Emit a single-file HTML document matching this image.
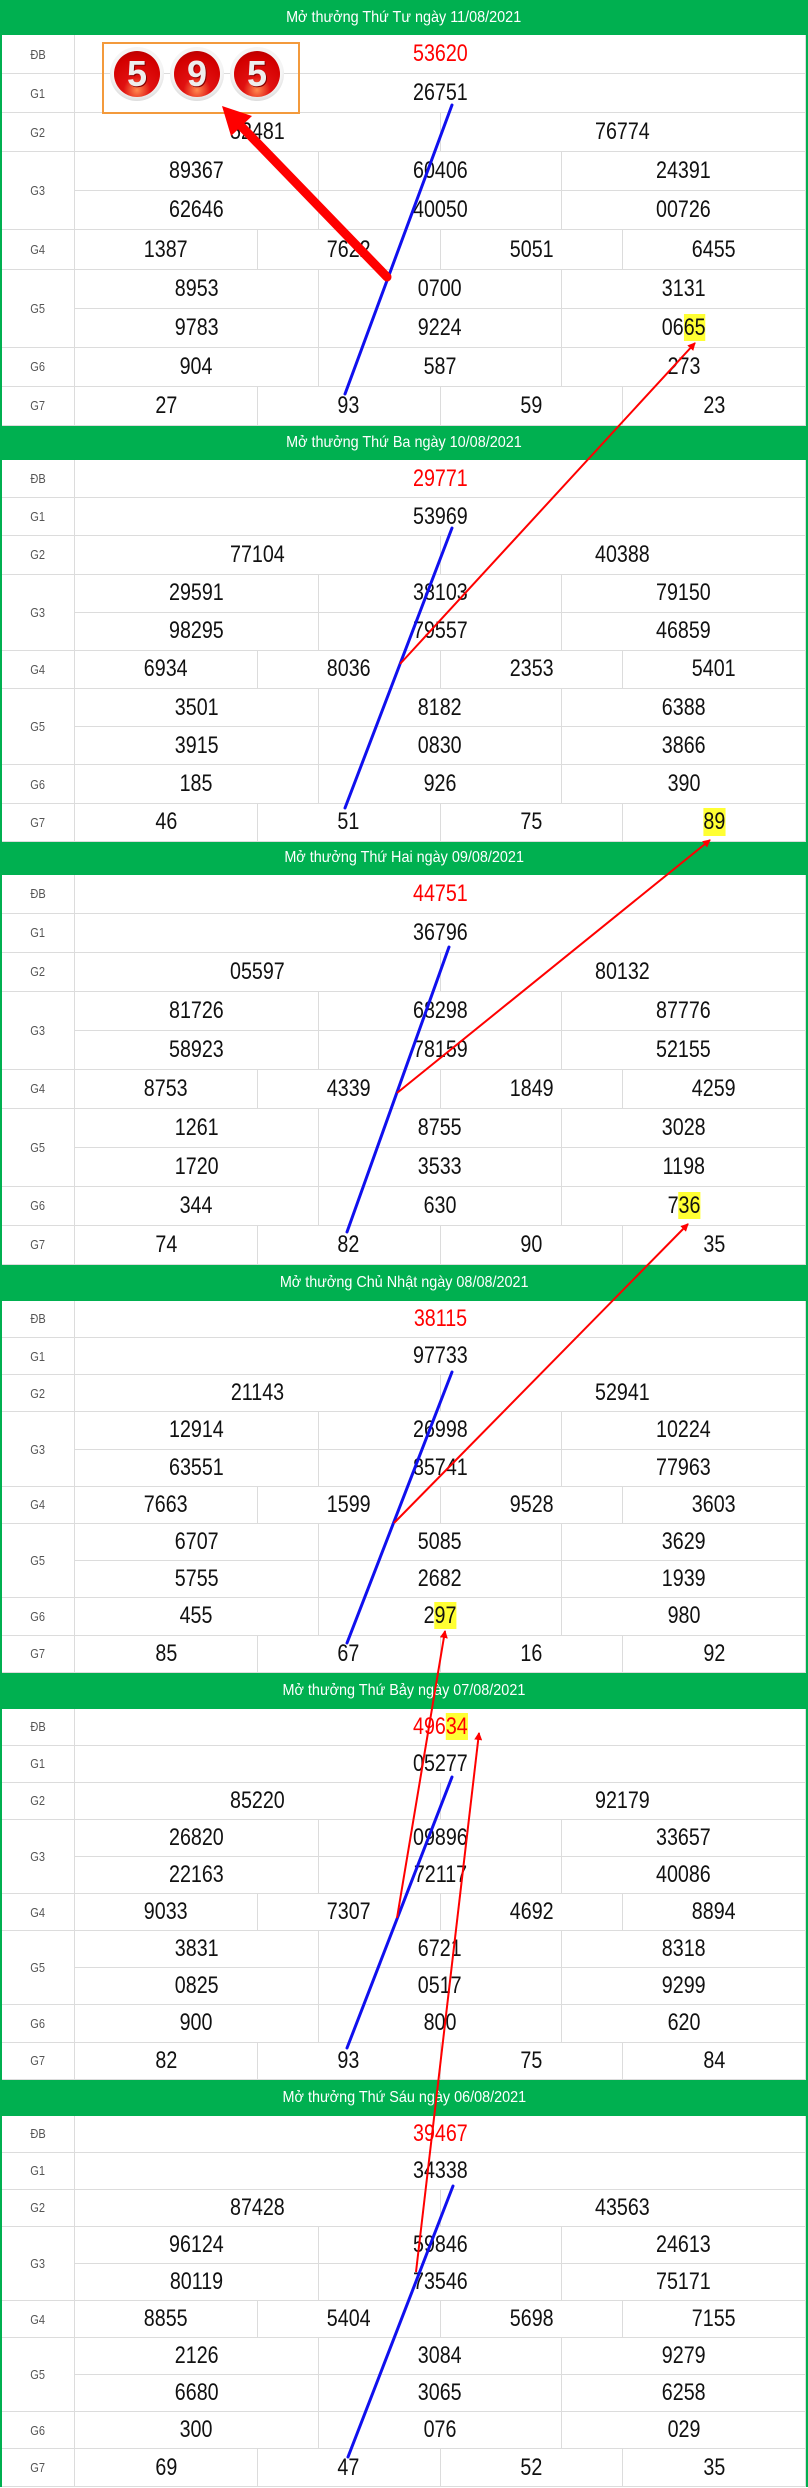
<!DOCTYPE html>
<html><head><meta charset="utf-8">
<style>
*{margin:0;padding:0;box-sizing:border-box}
body{width:808px;height:2488px;background:#fff;position:relative;overflow:hidden;font-family:"Liberation Sans",sans-serif}
.blk{position:relative;border-left:2px solid #00b050;border-right:2px solid #00b050}
.hd{background:#00b050;color:#fff;text-align:center;font-size:16px;display:flex;align-items:center;justify-content:center}
.hd span{display:inline-block;transform:scaleX(.9)}
.g{display:grid;grid-template-columns:73px repeat(12,1fr)}
.g>div{border-right:1px solid #dcdcdc;border-bottom:1px solid #dcdcdc;display:flex;align-items:center;justify-content:center;font-size:24px;color:#111}
.g>div>span{display:inline-block;transform:scaleX(.82)}
.g>div.l{font-size:13px;color:#555}
.g>div.l>span{transform:scaleX(.85)}
.s12{grid-column:span 12}.s6{grid-column:span 6}.s4{grid-column:span 4}.s3{grid-column:span 3}
.r2{grid-row:span 2}
.red{color:#f00!important}
.h{background:#ffff33}
svg{position:absolute;left:0;top:0}
.box{position:absolute;left:102px;top:42px;width:198px;height:72px;border:2px solid #f39a3c}
.ball{position:absolute;top:47px;width:54px;height:54px;border-radius:50%;background:radial-gradient(circle at 50% 40%,#f5f5f5 60%,#bbb 100%);}
.ball i{position:absolute;left:4px;top:4px;width:46px;height:46px;border-radius:50%;background:radial-gradient(circle at 50% 85%,#ff8a50 0,#e01010 30%,#d40000 70%,#a00 100%);color:#eee;font-style:normal;font-weight:bold;font-size:36px;line-height:46px;text-align:center;text-shadow:1px 1px 0 #800}
</style></head><body>

<div class="blk"><div class="hd" style="height:35px"><span>Mở thưởng Thứ Tư ngày 11/08/2021</span></div>
<div class="g" style="grid-auto-rows:39.1px">
<div class="l"><span>ĐB</span></div><div class="s12 red"><span>53620</span></div>
<div class="l"><span>G1</span></div><div class="s12"><span>26751</span></div>
<div class="l"><span>G2</span></div><div class="s6"><span>52481</span></div><div class="s6"><span>76774</span></div>
<div class="l r2"><span>G3</span></div><div class="s4"><span>89367</span></div><div class="s4"><span>60406</span></div><div class="s4"><span>24391</span></div><div class="s4"><span>62646</span></div><div class="s4"><span>40050</span></div><div class="s4"><span>00726</span></div>
<div class="l"><span>G4</span></div><div class="s3"><span>1387</span></div><div class="s3"><span>7622</span></div><div class="s3"><span>5051</span></div><div class="s3"><span>6455</span></div>
<div class="l r2"><span>G5</span></div><div class="s4"><span>8953</span></div><div class="s4"><span>0700</span></div><div class="s4"><span>3131</span></div><div class="s4"><span>9783</span></div><div class="s4"><span>9224</span></div><div class="s4"><span>06<b class="h" style="font-weight:normal">65</b></span></div>
<div class="l"><span>G6</span></div><div class="s4"><span>904</span></div><div class="s4"><span>587</span></div><div class="s4"><span>273</span></div>
<div class="l"><span>G7</span></div><div class="s3"><span>27</span></div><div class="s3"><span>93</span></div><div class="s3"><span>59</span></div><div class="s3"><span>23</span></div>
</div></div>

<div class="blk"><div class="hd" style="height:34px"><span>Mở thưởng Thứ Ba ngày 10/08/2021</span></div>
<div class="g" style="grid-auto-rows:38.2px">
<div class="l"><span>ĐB</span></div><div class="s12 red"><span>29771</span></div>
<div class="l"><span>G1</span></div><div class="s12"><span>53969</span></div>
<div class="l"><span>G2</span></div><div class="s6"><span>77104</span></div><div class="s6"><span>40388</span></div>
<div class="l r2"><span>G3</span></div><div class="s4"><span>29591</span></div><div class="s4"><span>38103</span></div><div class="s4"><span>79150</span></div><div class="s4"><span>98295</span></div><div class="s4"><span>79557</span></div><div class="s4"><span>46859</span></div>
<div class="l"><span>G4</span></div><div class="s3"><span>6934</span></div><div class="s3"><span>8036</span></div><div class="s3"><span>2353</span></div><div class="s3"><span>5401</span></div>
<div class="l r2"><span>G5</span></div><div class="s4"><span>3501</span></div><div class="s4"><span>8182</span></div><div class="s4"><span>6388</span></div><div class="s4"><span>3915</span></div><div class="s4"><span>0830</span></div><div class="s4"><span>3866</span></div>
<div class="l"><span>G6</span></div><div class="s4"><span>185</span></div><div class="s4"><span>926</span></div><div class="s4"><span>390</span></div>
<div class="l"><span>G7</span></div><div class="s3"><span>46</span></div><div class="s3"><span>51</span></div><div class="s3"><span>75</span></div><div class="s3"><span class="h">89</span></div>
</div></div>

<div class="blk"><div class="hd" style="height:33px"><span>Mở thưởng Thứ Hai ngày 09/08/2021</span></div>
<div class="g" style="grid-auto-rows:39px">
<div class="l"><span>ĐB</span></div><div class="s12 red"><span>44751</span></div>
<div class="l"><span>G1</span></div><div class="s12"><span>36796</span></div>
<div class="l"><span>G2</span></div><div class="s6"><span>05597</span></div><div class="s6"><span>80132</span></div>
<div class="l r2"><span>G3</span></div><div class="s4"><span>81726</span></div><div class="s4"><span>68298</span></div><div class="s4"><span>87776</span></div><div class="s4"><span>58923</span></div><div class="s4"><span>78159</span></div><div class="s4"><span>52155</span></div>
<div class="l"><span>G4</span></div><div class="s3"><span>8753</span></div><div class="s3"><span>4339</span></div><div class="s3"><span>1849</span></div><div class="s3"><span>4259</span></div>
<div class="l r2"><span>G5</span></div><div class="s4"><span>1261</span></div><div class="s4"><span>8755</span></div><div class="s4"><span>3028</span></div><div class="s4"><span>1720</span></div><div class="s4"><span>3533</span></div><div class="s4"><span>1198</span></div>
<div class="l"><span>G6</span></div><div class="s4"><span>344</span></div><div class="s4"><span>630</span></div><div class="s4"><span>7<b class="h" style="font-weight:normal">36</b></span></div>
<div class="l"><span>G7</span></div><div class="s3"><span>74</span></div><div class="s3"><span>82</span></div><div class="s3"><span>90</span></div><div class="s3"><span>35</span></div>
</div></div>

<div class="blk"><div class="hd" style="height:36px"><span>Mở thưởng Chủ Nhật ngày 08/08/2021</span></div>
<div class="g" style="grid-auto-rows:37.2px">
<div class="l"><span>ĐB</span></div><div class="s12 red"><span>38115</span></div>
<div class="l"><span>G1</span></div><div class="s12"><span>97733</span></div>
<div class="l"><span>G2</span></div><div class="s6"><span>21143</span></div><div class="s6"><span>52941</span></div>
<div class="l r2"><span>G3</span></div><div class="s4"><span>12914</span></div><div class="s4"><span>26998</span></div><div class="s4"><span>10224</span></div><div class="s4"><span>63551</span></div><div class="s4"><span>85741</span></div><div class="s4"><span>77963</span></div>
<div class="l"><span>G4</span></div><div class="s3"><span>7663</span></div><div class="s3"><span>1599</span></div><div class="s3"><span>9528</span></div><div class="s3"><span>3603</span></div>
<div class="l r2"><span>G5</span></div><div class="s4"><span>6707</span></div><div class="s4"><span>5085</span></div><div class="s4"><span>3629</span></div><div class="s4"><span>5755</span></div><div class="s4"><span>2682</span></div><div class="s4"><span>1939</span></div>
<div class="l"><span>G6</span></div><div class="s4"><span>455</span></div><div class="s4"><span>2<b class="h" style="font-weight:normal">97</b></span></div><div class="s4"><span>980</span></div>
<div class="l"><span>G7</span></div><div class="s3"><span>85</span></div><div class="s3"><span>67</span></div><div class="s3"><span>16</span></div><div class="s3"><span>92</span></div>
</div></div>

<div class="blk"><div class="hd" style="height:36px"><span>Mở thưởng Thứ Bảy ngày 07/08/2021</span></div>
<div class="g" style="grid-auto-rows:37.1px">
<div class="l"><span>ĐB</span></div><div class="s12 red"><span>496<b class="h" style="font-weight:normal">34</b></span></div>
<div class="l"><span>G1</span></div><div class="s12"><span>05277</span></div>
<div class="l"><span>G2</span></div><div class="s6"><span>85220</span></div><div class="s6"><span>92179</span></div>
<div class="l r2"><span>G3</span></div><div class="s4"><span>26820</span></div><div class="s4"><span>09896</span></div><div class="s4"><span>33657</span></div><div class="s4"><span>22163</span></div><div class="s4"><span>72117</span></div><div class="s4"><span>40086</span></div>
<div class="l"><span>G4</span></div><div class="s3"><span>9033</span></div><div class="s3"><span>7307</span></div><div class="s3"><span>4692</span></div><div class="s3"><span>8894</span></div>
<div class="l r2"><span>G5</span></div><div class="s4"><span>3831</span></div><div class="s4"><span>6721</span></div><div class="s4"><span>8318</span></div><div class="s4"><span>0825</span></div><div class="s4"><span>0517</span></div><div class="s4"><span>9299</span></div>
<div class="l"><span>G6</span></div><div class="s4"><span>900</span></div><div class="s4"><span>800</span></div><div class="s4"><span>620</span></div>
<div class="l"><span>G7</span></div><div class="s3"><span>82</span></div><div class="s3"><span>93</span></div><div class="s3"><span>75</span></div><div class="s3"><span>84</span></div>
</div></div>

<div class="blk"><div class="hd" style="height:36px"><span>Mở thưởng Thứ Sáu ngày 06/08/2021</span></div>
<div class="g" style="grid-auto-rows:37.1px">
<div class="l"><span>ĐB</span></div><div class="s12 red"><span>39467</span></div>
<div class="l"><span>G1</span></div><div class="s12"><span>34338</span></div>
<div class="l"><span>G2</span></div><div class="s6"><span>87428</span></div><div class="s6"><span>43563</span></div>
<div class="l r2"><span>G3</span></div><div class="s4"><span>96124</span></div><div class="s4"><span>59846</span></div><div class="s4"><span>24613</span></div><div class="s4"><span>80119</span></div><div class="s4"><span>73546</span></div><div class="s4"><span>75171</span></div>
<div class="l"><span>G4</span></div><div class="s3"><span>8855</span></div><div class="s3"><span>5404</span></div><div class="s3"><span>5698</span></div><div class="s3"><span>7155</span></div>
<div class="l r2"><span>G5</span></div><div class="s4"><span>2126</span></div><div class="s4"><span>3084</span></div><div class="s4"><span>9279</span></div><div class="s4"><span>6680</span></div><div class="s4"><span>3065</span></div><div class="s4"><span>6258</span></div>
<div class="l"><span>G6</span></div><div class="s4"><span>300</span></div><div class="s4"><span>076</span></div><div class="s4"><span>029</span></div>
<div class="l"><span>G7</span></div><div class="s3"><span>69</span></div><div class="s3"><span>47</span></div><div class="s3"><span>52</span></div><div class="s3"><span>35</span></div>
</div></div>

<div class="box"></div>
<div class="ball" style="left:110px"><i>5</i></div>
<div class="ball" style="left:170px"><i>9</i></div>
<div class="ball" style="left:230px"><i>5</i></div>

<svg width="808" height="2488" viewBox="0 0 808 2488">
<defs><marker id="a" markerWidth="8" markerHeight="8" refX="7" refY="4" orient="auto" markerUnits="userSpaceOnUse"><path d="M0,0 L8,4 L0,8 Z" fill="#f00"/></marker></defs>
<g stroke="#1010ee" stroke-width="3" stroke-linecap="round">
<line x1="452" y1="105" x2="345" y2="394"/>
<line x1="452" y1="528" x2="345" y2="808"/>
<line x1="449" y1="947" x2="347" y2="1232"/>
<line x1="452" y1="1372" x2="347" y2="1643"/>
<line x1="452" y1="1777" x2="347" y2="2048"/>
<line x1="453" y1="2186" x2="348" y2="2457"/>
</g>
<g stroke="#f00" stroke-width="2" fill="none">
<line x1="400" y1="664" x2="695" y2="343" marker-end="url(#a)"/>
<line x1="397" y1="1093" x2="710" y2="840" marker-end="url(#a)"/>
<line x1="394" y1="1523" x2="688" y2="1224" marker-end="url(#a)"/>
<line x1="397" y1="1918" x2="445" y2="1631" marker-end="url(#a)"/>
<line x1="416" y1="2272" x2="479" y2="1733" marker-end="url(#a)"/>
</g>
<line x1="387" y1="277" x2="241" y2="126" stroke="#f00" stroke-width="9" stroke-linecap="round"/>
<polygon points="222,106 252,116 231,136" fill="#f00"/>
</svg>
</body></html>
